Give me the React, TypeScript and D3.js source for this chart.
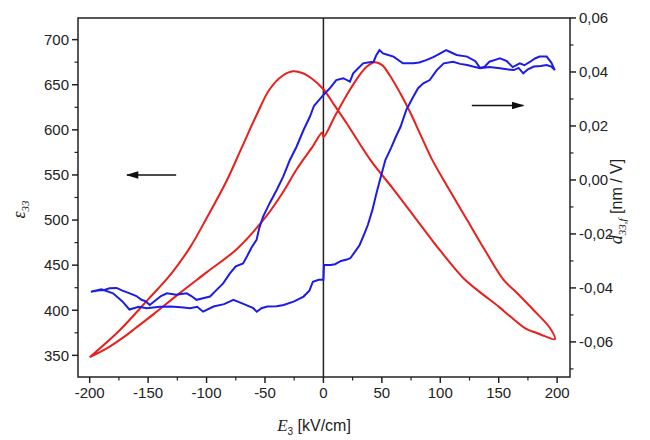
import React from "react";
import * as d3 from "d3";

// field axis (kV/cm)
const xTicks = [-200, -150, -100, -50, 0, 50, 100, 150, 200];
const epsTicks = [350, 400, 450, 500, 550, 600, 650, 700];
const dTicks = [-0.06, -0.04, -0.02, 0, 0.02, 0.04, 0.06];

// permittivity loop (red, left axis)
const epsField = [
  -200, -185, -170, -160, -145, -123, -100, -74, -49, -35, -23, -10, -1,
  0, 11, 22, 30, 37, 44, 50, 57, 66, 74, 84, 93, 108, 123, 138, 154, 165, 180, 194, 198,
  190, 182, 174, 160, 150, 135, 121, 100, 80, 60, 40, 20, 8, 0, -10, -18, -26, -35, -46,
  -57, -70, -83, -100, -114, -130, -150, -175, -200,
];
const epsValue = [
  348, 358, 371, 381, 396, 419, 442, 468, 504, 530, 556, 580, 597,
  592, 618, 643, 659, 670, 675, 672, 660, 640, 620, 592, 567, 533, 500, 467, 434, 420, 400, 380, 368,
  371, 375, 379, 393, 404, 419, 434, 466, 500, 534, 567, 607, 630, 645, 657, 663, 665, 660, 645,
  617, 580, 543, 502, 470, 441, 412, 377, 348,
];

// piezo coefficient loop (blue, right axis)
const dField = [
  -199, -190, -180, -172, -166, -158, -151, -140, -131, -122, -114, -108, -103, -94, -85, -77,
  -68, -60, -57, -53, -48, -40, -34, -25, -17, -12, -9, -4, 0,
  0.5, 6, 10, 15, 20, 23, 28, 31, 35, 38, 42, 45, 49, 53, 58, 62, 66, 71, 77, 81, 85.5, 91, 97,
  103, 111, 117, 123, 128, 134, 142, 151, 157, 163, 167, 171, 175, 180, 186, 191, 195, 198,
  195, 191, 185, 181, 177, 172, 168, 162, 157, 151, 147, 142, 138, 134, 130, 123, 114, 108, 105,
  100, 94, 88, 82, 77, 68, 60, 54, 51, 48, 45, 43, 38, 34, 30, 25.5, 22.7, 17, 11, 5.6, 0, -4,
  -8, -11.6, -17, -23, -28.7, -34.4, -40, -46, -51.6, -55, -57.2, -61.5, -65, -68.7, -75, -80,
  -85.8, -92, -97, -103, -108.6, -113, -117, -126, -134, -139, -143, -148.6, -152, -155.7, -160,
  -165.7, -172, -177, -183, -188, -193, -199,
];
const dValue = [
  -0.0414, -0.0405, -0.042, -0.045, -0.048, -0.047, -0.0475, -0.047, -0.0469, -0.0472, -0.0475,
  -0.047, -0.0488, -0.0469, -0.046, -0.0444, -0.046, -0.0475, -0.0488, -0.0475, -0.0469, -0.0468,
  -0.0463, -0.045, -0.0432, -0.041, -0.0377, -0.037, -0.037,
  -0.0315, -0.0315, -0.0312, -0.03, -0.0295, -0.029, -0.026, -0.0241, -0.02, -0.0167, -0.011,
  -0.0056, 0.001, 0.0074, 0.012, 0.016, 0.0197, 0.026, 0.0309, 0.034, 0.0358, 0.037, 0.0407,
  0.0432, 0.0438, 0.043, 0.0426, 0.042, 0.0414, 0.0418, 0.0414, 0.041, 0.0407, 0.0415, 0.0395,
  0.041, 0.042, 0.0422, 0.0426, 0.042, 0.0407,
  0.0435, 0.0457, 0.0457, 0.045, 0.0438, 0.0425, 0.0432, 0.0418, 0.044, 0.0451, 0.0445, 0.0438,
  0.042, 0.0415, 0.044, 0.0457, 0.0463, 0.0475, 0.0481, 0.0469, 0.0455, 0.0444, 0.0435, 0.0432,
  0.0432, 0.0457, 0.0465, 0.0469, 0.0481, 0.046, 0.0438, 0.0435, 0.0432, 0.0415, 0.0395, 0.0364,
  0.0377, 0.037, 0.034, 0.0315, 0.0295, 0.0275, 0.0234, 0.0185, 0.0123, 0.0074, 0.0012, -0.0037,
  -0.0086, -0.0136, -0.018, -0.0222, -0.025, -0.028, -0.0309, -0.032, -0.0346, -0.0383, -0.041,
  -0.0432, -0.0438, -0.0444, -0.043, -0.042, -0.0425, -0.042, -0.043, -0.0444, -0.0463, -0.045,
  -0.0444, -0.043, -0.042, -0.041, -0.04, -0.0401, -0.0408, -0.041, -0.0414,
];

// direction arrows: [from, to] in field units, height on left axis
const arrowLeft = { from: -126, to: -168, eps: 550 };
const arrowRight = { from: 127, to: 171, eps: 627 };

const App = () => {
  const [width, height] = [650, 440];
  const [left, right, top, bottom] = [78, 570, 18, 377];

  const x = d3.scaleLinear().domain([-210, 211]).range([left, right]);
  const yL = d3.scaleLinear().domain([326, 724]).range([bottom, top]);
  const yR = d3.scaleLinear().domain([-0.073, 0.06]).range([bottom, top]);

  const epsLine = d3
    .line<number>()
    .x((d, i) => x(epsField[i]))
    .y((d) => yL(d))
    .curve(d3.curveCatmullRom.alpha(0.5));
  const dLine = d3
    .line<number>()
    .x((d, i) => x(dField[i]))
    .y((d) => yR(d));

  const axisColor = "#222";
  const font = "Liberation Sans, Arial, sans-serif";

  // minor ticks halfway between majors
  const xMinor = d3.range(-175, 200, 50);
  const epsMinor = d3.range(375, 725, 50);
  const dMinor = d3.range(-0.07, 0.06, 0.02).map((v) => +v.toFixed(3));

  const fmtD = (v: number) => v.toFixed(2).replace(".", ",");

  return (
    <svg
      width={width}
      height={height}
      style={{ position: "absolute", left: 0, top: 0, background: "#fff" }}
      fontFamily={font}
    >
      <defs>
        <marker id="head" viewBox="0 0 10 6" refX="9" refY="3" markerWidth="9" markerHeight="5" orient="auto">
          <path d="M0,0 L10,3 L0,6 Z" fill="#111" />
        </marker>
      </defs>

      {/* frame */}
      <rect x={left} y={top} width={right - left} height={bottom - top} fill="none" stroke={axisColor} strokeWidth={1.5} />
      <line x1={x(0)} x2={x(0)} y1={top} y2={bottom} stroke={axisColor} strokeWidth={1.5} />

      {/* bottom axis */}
      {xTicks.map((t) => (
        <g key={"x" + t}>
          <line x1={x(t)} x2={x(t)} y1={bottom} y2={bottom + 6} stroke={axisColor} strokeWidth={1.5} />
          <text x={x(t)} y={bottom + 21} textAnchor="middle" fontSize={15} fill="#222">
            {t}
          </text>
        </g>
      ))}
      {xMinor.map((t) => (
        <line key={"xm" + t} x1={x(t)} x2={x(t)} y1={bottom} y2={bottom + 3.5} stroke={axisColor} strokeWidth={1.2} />
      ))}

      {/* left axis */}
      {epsTicks.map((t) => (
        <g key={"l" + t}>
          <line x1={left - 6} x2={left} y1={yL(t)} y2={yL(t)} stroke={axisColor} strokeWidth={1.5} />
          <text x={left - 9} y={yL(t)} dy="0.35em" textAnchor="end" fontSize={15} fill="#222">
            {t}
          </text>
        </g>
      ))}
      {epsMinor.map((t) => (
        <line key={"lm" + t} x1={left - 3.5} x2={left} y1={yL(t)} y2={yL(t)} stroke={axisColor} strokeWidth={1.2} />
      ))}

      {/* right axis */}
      {dTicks.map((t) => (
        <g key={"r" + t}>
          <line x1={right} x2={right + 6} y1={yR(t)} y2={yR(t)} stroke={axisColor} strokeWidth={1.5} />
          <text x={right + 9} y={yR(t)} dy="0.35em" textAnchor="start" fontSize={15} fill="#222">
            {fmtD(t)}
          </text>
        </g>
      ))}
      {dMinor.map((t) => (
        <line key={"rm" + t} x1={right} x2={right + 3.5} y1={yR(t)} y2={yR(t)} stroke={axisColor} strokeWidth={1.2} />
      ))}

      {/* data */}
      <path d={epsLine(epsValue) || ""} fill="none" stroke="#e8201c" strokeWidth={2} />
      <path d={dLine(dValue) || ""} fill="none" stroke="#1c1ce6" strokeWidth={2} />

      {/* arrows */}
      <line
        x1={x(arrowLeft.from)} x2={x(arrowLeft.to)} y1={yL(arrowLeft.eps)} y2={yL(arrowLeft.eps)}
        stroke="#111" strokeWidth={1.5} markerEnd="url(#head)"
      />
      <line
        x1={x(arrowRight.from)} x2={x(arrowRight.to)} y1={yL(arrowRight.eps)} y2={yL(arrowRight.eps)}
        stroke="#111" strokeWidth={1.5} markerEnd="url(#head)"
      />

      {/* axis titles */}
      <text x={(left + right) / 2 - 10} y={431} textAnchor="middle" fontSize={16} fill="#222">
        <tspan fontFamily="Liberation Serif, serif" fontStyle="italic" fontSize={17}>E</tspan>
        <tspan fontSize={10} dy={4}>3</tspan>
        <tspan dy={-4}> [kV/cm]</tspan>
      </text>
      <text transform={`translate(25, ${(top + bottom) / 2 + 12}) rotate(-90)`} textAnchor="middle" fontSize={16} fill="#222">
        <tspan fontFamily="Liberation Serif, serif" fontStyle="italic" fontSize={18}>ε</tspan>
        <tspan fontFamily="Liberation Serif, serif" fontStyle="italic" fontSize={11} dy={4}>33</tspan>
      </text>
      <text transform={`translate(622, ${(top + bottom) / 2 + 4}) rotate(-90)`} textAnchor="middle" fontSize={16} fill="#222">
        <tspan fontFamily="Liberation Serif, serif" fontStyle="italic" fontSize={18}>d</tspan>
        <tspan fontFamily="Liberation Serif, serif" fontStyle="italic" fontSize={11} dy={4}>33,f</tspan>
        <tspan dy={-4}> [nm / V]</tspan>
      </text>
    </svg>
  );
};

export default App;
